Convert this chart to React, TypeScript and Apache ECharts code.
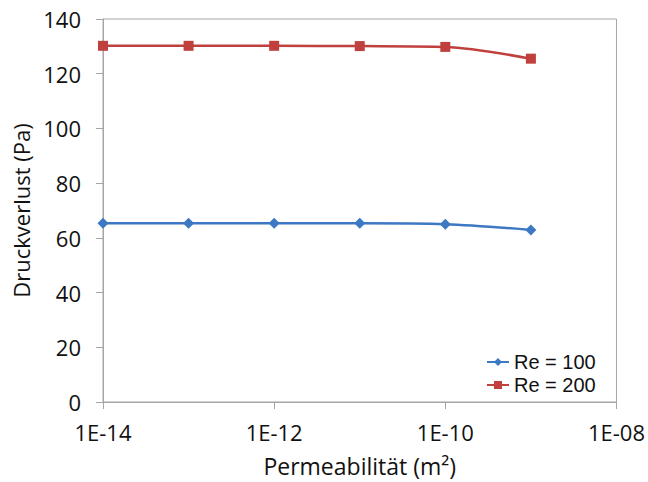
import React, { useEffect, useRef } from "react";
import * as echarts from "echarts";

const permeability = [1e-14, 1e-13, 1e-12, 1e-11, 1e-10, 1e-9];
const re100 = [65.3, 65.3, 65.3, 65.3, 65.0, 62.9];
const re200 = [130.2, 130.2, 130.2, 130.1, 129.8, 125.5];
const seriesNames = ["Re = 100", "Re = 200"];
const colors = ["#3c78c3", "#c0403e"];

const FONT = "'Open Sans', 'Liberation Sans', sans-serif";
const LEGEND_FONT = "'Liberation Sans', Arial, sans-serif";

function fmtExp(v: number): string {
  const e = Math.round(Math.log10(v));
  const sign = e < 0 ? "-" : "+";
  const a = Math.abs(e);
  return "1E" + sign + (a < 10 ? "0" + a : String(a));
}

export default function App() {
  const ref = useRef<HTMLDivElement>(null);
  useEffect(() => {
    if (!ref.current) return;
    const chart = echarts.init(ref.current, undefined, { renderer: "svg" });
    chart.setOption({
      animation: false,
      backgroundColor: "#ffffff",
      textStyle: { fontFamily: FONT },
      grid: {
        left: 103,
        right: 30,
        top: 19,
        bottom: 80,
        show: true,
        borderColor: "#a6a6a6",
        borderWidth: 1,
      },
      legend: {
        orient: "vertical",
        left: 481,
        top: 347,
        itemWidth: 22,
        itemHeight: 10,
        itemGap: 3,
        textStyle: { fontSize: 20, lineHeight: 20, color: "#111", fontFamily: LEGEND_FONT },
        data: seriesNames,
      },
      xAxis: {
        type: "log",
        logBase: 10,
        min: 1e-14,
        max: 1e-8,
        interval: 2,
        name: "Permeabilität (m²)",
        nameLocation: "middle",
        nameGap: 52,
        nameTextStyle: { fontSize: 23, color: "#111", fontFamily: FONT },
        axisLine: { lineStyle: { color: "#a6a6a6" } },
        axisTick: { show: true, length: 7, lineStyle: { color: "#a6a6a6" } },
        minorTick: { show: false },
        splitLine: { show: false },
        axisLabel: {
          fontSize: 22,
          color: "#111",
          margin: 19,
          fontFamily: FONT,
          formatter: (v: number) => fmtExp(v),
        },
      },
      yAxis: {
        type: "value",
        min: 0,
        max: 140,
        interval: 20,
        name: "Druckverlust (Pa)",
        nameLocation: "middle",
        nameGap: 60,
        nameRotate: 90,
        nameTextStyle: { fontSize: 22, color: "#111", fontFamily: FONT },
        axisLine: { show: true, lineStyle: { color: "#a6a6a6" } },
        axisTick: { show: true, length: 7, lineStyle: { color: "#a6a6a6" } },
        splitLine: { show: false },
        axisLabel: { fontSize: 22, color: "#111", margin: 22, fontFamily: FONT },
      },
      series: [
        {
          name: seriesNames[0],
          type: "line",
          data: permeability.map((x, i) => [x, re100[i]]),
          smooth: 0.3,
          symbol: "diamond",
          symbolSize: 11,
          color: colors[0],
          lineStyle: { width: 2.5, color: colors[0] },
          itemStyle: { color: colors[0] },
        },
        {
          name: seriesNames[1],
          type: "line",
          data: permeability.map((x, i) => [x, re200[i]]),
          smooth: 0.3,
          symbol: "rect",
          symbolSize: 10,
          color: colors[1],
          lineStyle: { width: 2.5, color: colors[1] },
          itemStyle: { color: colors[1] },
        },
      ],
    });
    return () => chart.dispose();
  }, []);
  return (
    <div
      ref={ref}
      style={{ position: "absolute", left: 0, top: 0, width: 648, height: 482 }}
    />
  );
}
